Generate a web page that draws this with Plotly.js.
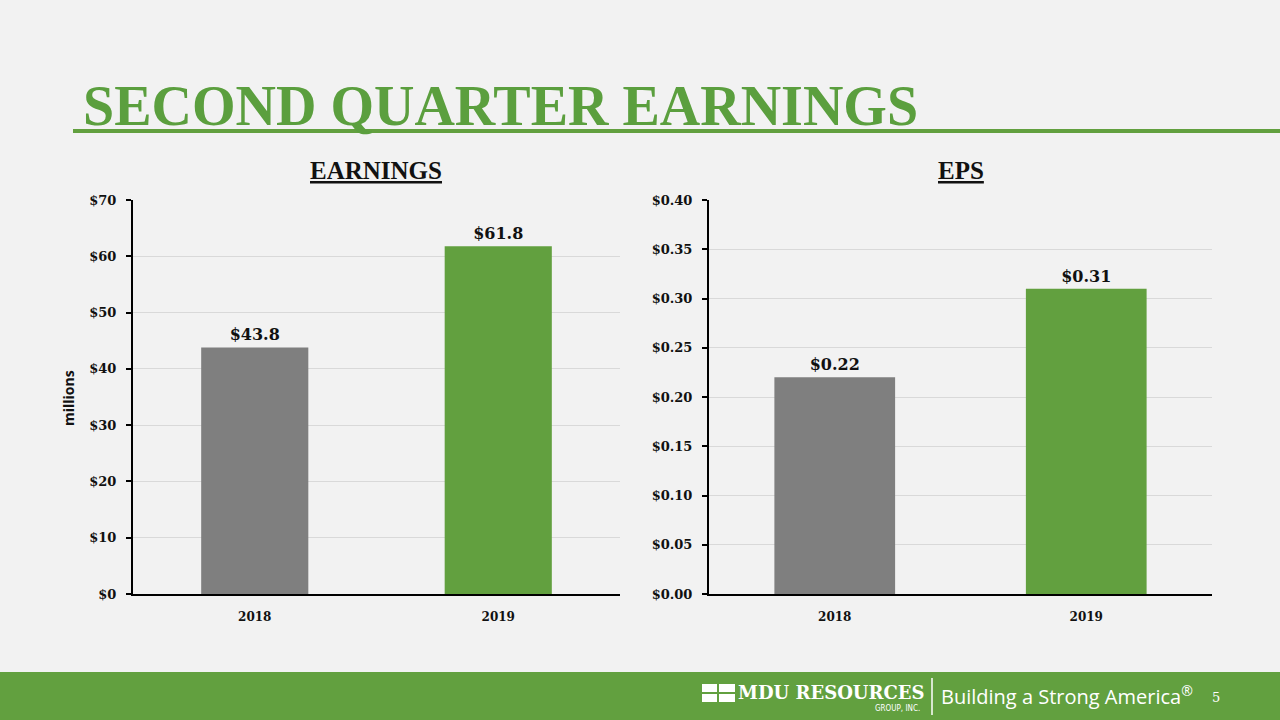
<!DOCTYPE html>
<html>
<head>
<meta charset="utf-8">
<script src="https://cdn.plot.ly/plotly-3.0.1.min.js"></script>
<style>
  html, body { margin: 0; padding: 0; background: #f2f2f2; }
  #chart { width: 1280px; height: 720px; }
</style>
</head>
<body>
<div id="chart"></div>
<script>
// ── Data ──────────────────────────────────────────────────────
var years          = ['2018', '2019'];
var earnings       = [43.8, 61.8];          // $ millions
var eps            = [0.22, 0.31];          // $ per share
var earnLabels     = ['$43.8', '$61.8'];
var epsLabels      = ['$0.22', '$0.31'];
var earnTicks      = [0, 10, 20, 30, 40, 50, 60, 70];
var earnTickLabels = ['$0', '$10', '$20', '$30', '$40', '$50', '$60', '$70'];
var epsTicks       = [0, 0.05, 0.10, 0.15, 0.20, 0.25, 0.30, 0.35, 0.40];
var epsTickLabels  = ['$0.00', '$0.05', '$0.10', '$0.15', '$0.20', '$0.25', '$0.30', '$0.35', '$0.40'];

// ── Style ─────────────────────────────────────────────────────
var GREEN = '#62a03f';
var GRAY  = '#7f7f7f';
var SERIF = 'DejaVu Serif, Liberation Serif, serif';
var TITLE_SERIF = 'Liberation Serif, DejaVu Serif, serif';
var SANS  = 'Open Sans, Noto Sans, sans-serif';
var barColors = [GRAY, GREEN];

function px(x) { return x / 1280; }
function py(y) { return 1 - y / 720; }

var labelFont = { family: SERIF, size: 16, color: '#111', weight: 'bold' };
var xTickFont = { family: SERIF, size: 12, color: '#111', weight: 'bold' };
var yTickFont = { family: SERIF, size: 13, color: '#111', weight: 'bold' };

var traces = [
    { type: 'bar', x: years, y: earnings, xaxis: 'x', yaxis: 'y',
      marker: { color: barColors }, width: 0.44,
      text: earnLabels, textposition: 'outside', cliponaxis: false,
      textfont: labelFont, hoverinfo: 'skip', showlegend: false },
    { type: 'bar', x: years, y: eps, xaxis: 'x2', yaxis: 'y2',
      marker: { color: barColors }, width: 0.48,
      text: epsLabels, textposition: 'outside', cliponaxis: false,
      textfont: labelFont, hoverinfo: 'skip', showlegend: false }
];

function xAxis(domain, anchor) {
    return { domain: domain, anchor: anchor, type: 'category', range: [-0.5, 1.5],
        showline: true, linecolor: '#000', linewidth: 2, ticks: '', showgrid: false,
        zeroline: false, ticklabelstandoff: 11, tickfont: xTickFont, fixedrange: true };
}
function yAxis(domain, anchor, range, vals, labels) {
    return { domain: domain, anchor: anchor, range: range,
        tickmode: 'array', tickvals: vals, ticktext: labels,
        showline: true, linecolor: '#000', linewidth: 2,
        ticks: 'outside', ticklen: 5, tickwidth: 2, tickcolor: '#000', ticklabelstandoff: 7,
        showgrid: true, gridcolor: '#d9d9d9', gridwidth: 1, zeroline: false,
        tickfont: yTickFont, fixedrange: true };
}

var yDom = [py(594), py(200)];

var layout = {
    width: 1280, height: 720,
    margin: { l: 0, r: 0, t: 0, b: 0 },
    paper_bgcolor: '#f2f2f2', plot_bgcolor: '#f2f2f2',
    xaxis:  xAxis([px(133), px(620)], 'y'),
    yaxis:  yAxis(yDom, 'x', [0, 70], earnTicks, earnTickLabels),
    xaxis2: xAxis([px(709), px(1212)], 'y2'),
    yaxis2: yAxis(yDom, 'x2', [0, 0.4], epsTicks, epsTickLabels),
    shapes: [
        // header underline
        { type: 'line', xref: 'paper', yref: 'paper', x0: px(73), x1: 1, y0: py(131), y1: py(131),
          line: { color: GREEN, width: 4 } },
        // footer band
        { type: 'rect', xref: 'paper', yref: 'paper', x0: 0, x1: 1, y0: 0, y1: py(672),
          fillcolor: GREEN, line: { width: 0 } },
        // logo blocks
        { type: 'rect', xref: 'paper', yref: 'paper', x0: px(702), x1: px(717), y0: py(684), y1: py(692),
          fillcolor: '#fff', line: { width: 0 } },
        { type: 'rect', xref: 'paper', yref: 'paper', x0: px(719), x1: px(735), y0: py(684), y1: py(692),
          fillcolor: '#fff', line: { width: 0 } },
        { type: 'rect', xref: 'paper', yref: 'paper', x0: px(702), x1: px(717), y0: py(694), y1: py(702),
          fillcolor: '#fff', line: { width: 0 } },
        { type: 'rect', xref: 'paper', yref: 'paper', x0: px(719), x1: px(735), y0: py(694), y1: py(702),
          fillcolor: '#fff', line: { width: 0 } },
        // logo divider
        { type: 'line', xref: 'paper', yref: 'paper', x0: px(932), x1: px(932), y0: py(678), y1: py(715),
          line: { color: '#fff', width: 1.5 } }
    ],
    annotations: [
        { text: '<b>SECOND QUARTER EARNINGS</b>', xref: 'paper', yref: 'paper',
          x: px(81), y: py(106), xanchor: 'left', yanchor: 'middle', showarrow: false,
          font: { family: TITLE_SERIF, size: 56, color: '#5b9f3e' } },
        { text: '<b><u>EARNINGS</u></b>', xref: 'paper', yref: 'paper',
          x: px(376), y: py(170), xanchor: 'center', yanchor: 'middle', showarrow: false,
          font: { family: TITLE_SERIF, size: 25, color: '#111' } },
        { text: '<b><u>EPS</u></b>', xref: 'paper', yref: 'paper',
          x: px(961), y: py(170), xanchor: 'center', yanchor: 'middle', showarrow: false,
          font: { family: TITLE_SERIF, size: 25, color: '#111' } },
        { text: '<b>millions</b>', xref: 'paper', yref: 'paper', textangle: -90,
          x: px(68), y: py(398), xanchor: 'center', yanchor: 'middle', showarrow: false,
          font: { family: SANS, size: 14, color: '#111' } },
        { text: '<b>MDU RESOURCES</b>', xref: 'paper', yref: 'paper',
          x: px(736), y: py(692), xanchor: 'left', yanchor: 'middle', showarrow: false,
          font: { family: SERIF, size: 18, color: '#fff' } },
        { text: 'GROUP, INC.', xref: 'paper', yref: 'paper',
          x: px(922), y: py(708), xanchor: 'right', yanchor: 'middle', showarrow: false,
          font: { family: 'DejaVu Sans Condensed, DejaVu Sans, sans-serif', size: 8, color: '#fff' } },
        { text: 'Building a Strong America<sup>®</sup>', xref: 'paper', yref: 'paper',
          x: px(939), y: py(695), xanchor: 'left', yanchor: 'middle', showarrow: false,
          font: { family: SANS, size: 20, color: '#fff' } },
        { text: '5', xref: 'paper', yref: 'paper',
          x: px(1216), y: py(697), xanchor: 'center', yanchor: 'middle', showarrow: false,
          font: { family: SERIF, size: 13, color: '#fff' } }
    ],
    showlegend: false
};

Plotly.newPlot('chart', traces, layout, { displayModeBar: false, staticPlot: true });
</script>
</body>
</html>
